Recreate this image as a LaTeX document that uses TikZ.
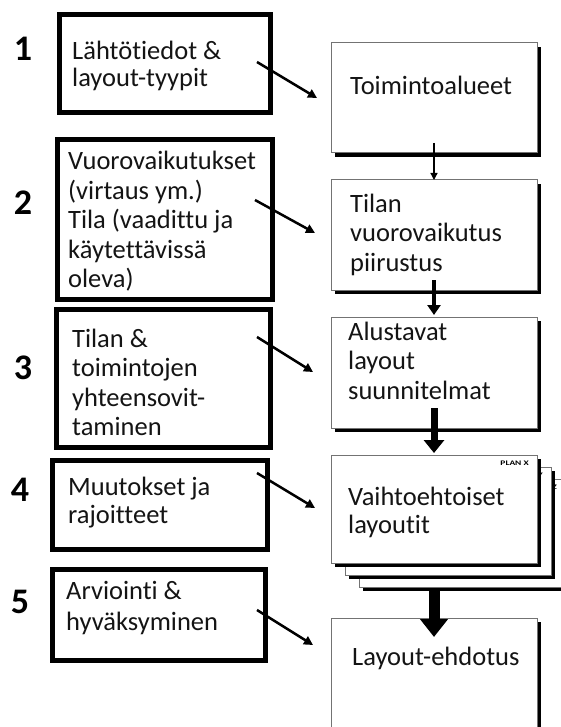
\documentclass[tikz,border=0pt]{standalone}
\usepackage{fontspec}
\setmainfont{Carlito}[Ligatures=NoCommon]
\usetikzlibrary{arrows.meta,shadows}
\begin{document}
\begin{tikzpicture}[x=1pt,y=-1pt,
  lbox/.style={draw=black, line width=5pt, fill=white, inner sep=0pt, outer sep=0pt},
  rbox/.style={draw=black!55, line width=1pt, fill=white, inner sep=0pt, outer sep=0pt,
    minimum width=206pt,
    drop shadow={shadow xshift=4pt, shadow yshift=-4pt, fill=black, opacity=1}},
  btext/.style={anchor=base west, inner sep=0pt, text=black!92,
    font=\fontsize{26.5}{#1}\selectfont},
  btext/.default=29.5,
  num/.style={inner sep=0pt, font=\fontsize{36}{36}\selectfont\bfseries},
  plan/.style={inner sep=0pt, anchor=east, font=\fontsize{7}{7}\selectfont\bfseries},
  diag/.style={line width=2.5pt, -{Triangle[length=9pt,width=9pt]}},
  flow1/.style={line width=1.3pt, -{Triangle[length=7pt,width=7pt]}},
  flow2/.style={line width=4.5pt, -{Triangle[length=10pt,width=13pt]}},
  flow3/.style={line width=7pt, -{Triangle[length=13pt,width=20pt]}},
  flow4/.style={line width=11pt, -{Triangle[length=18pt,width=27pt]}},
]
\useasboundingbox (0,0) rectangle (561,727);
\clip (0,0) rectangle (561,727);

% step numbers
\node[num] (n1) at (23,49) {1};
\node[num] (n2) at (23,203) {2};
\node[num] (n3) at (23,368) {3};
\node[num] (n4) at (20,490) {4};
\node[num] (n5) at (20,602) {5};

% input boxes on the left
\node[lbox, minimum width=211pt, minimum height=98pt]  (L1) at (165,63.5) {};
\node[lbox, minimum width=215pt, minimum height=160pt] (L2) at (165,219.5) {};
\node[lbox, minimum width=214pt, minimum height=138pt] (L3) at (163.5,378.5) {};
\node[lbox, minimum width=215pt, minimum height=89pt]  (L4) at (160,505) {};
\node[lbox, minimum width=213pt, minimum height=91pt]  (L5) at (159,615) {};

\node[btext=27] (t1) at (72,60) {\begin{tabular}[t]{@{}l@{}}Lähtötiedot \&\\layout-tyypit\end{tabular}};
\node[btext] (t2) at (68,170) {\begin{tabular}[t]{@{}l@{}}Vuorovaikutukset\\(virtaus ym.)\\Tila (vaadittu ja\\käytettävissä\\oleva)\end{tabular}};
\node[btext] (t3) at (72,347) {\begin{tabular}[t]{@{}l@{}}Tilan \&\\toimintojen\\yhteensovit-\\taminen\end{tabular}};
\node[btext=28] (t4) at (68,495) {\begin{tabular}[t]{@{}l@{}}Muutokset ja\\rajoitteet\end{tabular}};
\node[btext=31] (t5) at (66,599) {\begin{tabular}[t]{@{}l@{}}Arviointi \&\\hyväksyminen\end{tabular}};

% last stage box, drawn first so the stack and arrow sit over it
\node[rbox, minimum height=122pt] (R5) at (434,679) {};

% process boxes on the right
\node[rbox, minimum height=110pt] (R1) at (434,98) {};
\node[rbox, minimum height=110pt] (R2) at (434,235) {};
\node[rbox, minimum height=111pt] (R3) at (434,372.5) {};

% stacked alternative layouts
\node[rbox, minimum height=108pt] (R4c) at (462,533) {};
\node[plan] (pz) at ([xshift=-8pt,yshift=-8pt]R4c.north east) {\scalebox{1.35}[1]{PLAN Z}};
\node[rbox, minimum height=108pt] (R4b) at (448,521) {};
\node[plan] (py) at ([xshift=-8pt,yshift=-8pt]R4b.north east) {\scalebox{1.35}[1]{PLAN Y}};
\node[rbox, minimum height=108pt] (R4) at (434,509) {};
\node[plan] (px) at ([xshift=-8pt,yshift=-8pt]R4.north east) {\scalebox{1.35}[1]{PLAN X}};

\node[btext] (u1) at (350,95) {Toimintoalueet};
\node[btext] (u2) at (350,212) {\begin{tabular}[t]{@{}l@{}}Tilan\\vuorovaikutus\\piirustus\end{tabular}};
\node[btext] (u3) at (348,340) {\begin{tabular}[t]{@{}l@{}}Alustavat\\layout\\suunnitelmat\end{tabular}};
\node[btext=28] (u4) at (348,505) {\begin{tabular}[t]{@{}l@{}}Vaihtoehtoiset\\layoutit\end{tabular}};
\node[btext] (u5) at (352,665) {Layout-ehdotus};

% flow between the process boxes
\draw[flow1] ([yshift=10pt]R1.south) -- (R2.north);
\draw[flow2] ([yshift=10pt]R2.south) -- ([yshift=2pt]R3.north);
\draw[flow3] ([yshift=20pt]R3.south) -- ([yshift=2pt]R4.north);
\draw[flow4] ([yshift=-26pt]R4.south) -- ([yshift=-19pt]R5.north);

% inputs feeding each stage
\coordinate (d1s) at (257,62);  \coordinate (d1e) at (317,98);
\coordinate (d2s) at (255,200); \coordinate (d2e) at (315,233);
\coordinate (d3s) at (257,337); \coordinate (d3e) at (313,372);
\coordinate (d4s) at (257,473); \coordinate (d4e) at (315,508);
\coordinate (d5s) at (257,610); \coordinate (d5e) at (313,645);
\draw[diag] (d1s) -- (d1e);
\draw[diag] (d2s) -- (d2e);
\draw[diag] (d3s) -- (d3e);
\draw[diag] (d4s) -- (d4e);
\draw[diag] (d5s) -- (d5e);
\end{tikzpicture}
\end{document}
